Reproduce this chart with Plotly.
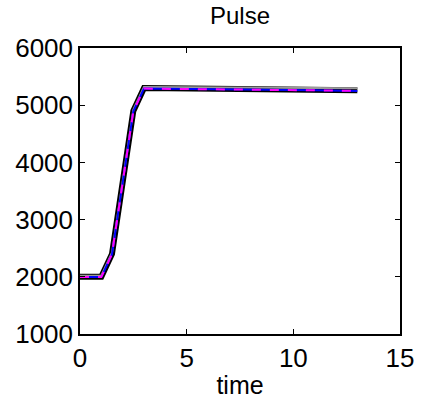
import plotly.graph_objects as go

time = [0, 1, 1.5, 2.5, 3, 5, 7, 9, 11, 13]
pulse_black = [2000, 2000, 2400, 4900, 5300, 5295, 5290, 5280, 5270, 5260]
pulse_gray = [2020, 2020, 2420, 4920, 5320, 5318, 5314, 5308, 5302, 5295]
pulse_blue = [1995, 1995, 2395, 4895, 5290, 5285, 5278, 5270, 5260, 5250]
pulse_magenta = [1995, 1995, 2395, 4895, 5290, 5285, 5278, 5270, 5260, 5250]

xticks = [0, 5, 10, 15]
yticks = [1000, 2000, 3000, 4000, 5000, 6000]

FONT = "Liberation Sans, Arial"

fig = go.Figure()
fig.add_trace(go.Scatter(x=time, y=pulse_black, mode="lines",
                         line=dict(color="black", width=6), showlegend=False))
fig.add_trace(go.Scatter(x=time, y=pulse_gray, mode="lines",
                         line=dict(color="#9a9a9a", width=2), showlegend=False))
fig.add_trace(go.Scatter(x=time, y=pulse_blue, mode="lines",
                         line=dict(color="#0000ff", width=2), showlegend=False))
fig.add_trace(go.Scatter(x=time, y=pulse_magenta, mode="lines",
                         line=dict(color="#ff00ff", width=2, dash="dash"), showlegend=False))

axis_common = dict(showline=True, linecolor="black", linewidth=1.5, mirror="allticks",
                   ticks="inside", ticklen=5, tickcolor="black", showgrid=False,
                   zeroline=False, tickfont=dict(family=FONT, size=26, color="black"))

fig.update_xaxes(range=[0, 15], tickvals=xticks, ticktext=[str(v) for v in xticks],
                 title=dict(text="time", font=dict(family=FONT, size=25, color="black"),
                            standoff=5),
                 **axis_common)
fig.update_yaxes(range=[1000, 6000], tickvals=yticks, ticktext=[str(v) for v in yticks],
                 **axis_common)

fig.update_layout(
    width=426, height=410,
    margin=dict(l=80, r=19, t=48, b=76),
    plot_bgcolor="white", paper_bgcolor="white",
    title=dict(text="Pulse", x=0.5, xref="paper", xanchor="center",
               y=1 - 16 / 410, yref="container", yanchor="middle",
               font=dict(family=FONT, size=24, color="black")),
)

fig.write_html("out.html", config={"displayModeBar": False},
               post_script="document.body.style.margin='0';document.body.style.overflow='hidden';")
